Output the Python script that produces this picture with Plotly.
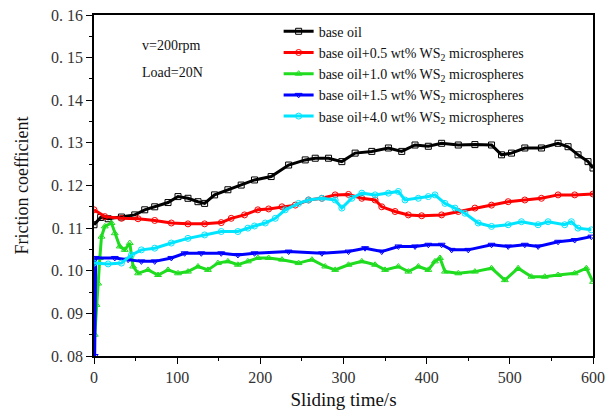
import plotly.graph_objects as go

# sliding time (s) and friction coefficient
t_base = [0, 8, 17, 33, 49, 61, 73, 89, 101, 113, 125, 133, 145, 161, 177, 193, 213, 234, 254,
          266, 282, 298, 314, 334, 354, 370, 386, 402, 418, 438, 458, 478, 490, 502, 518, 538,
          558, 570, 582, 594, 600]
f_base = [0.1108, 0.1125, 0.1122, 0.1126, 0.1131, 0.1143, 0.1150, 0.1160, 0.1174, 0.1170, 0.1162,
          0.1158, 0.1178, 0.1190, 0.1201, 0.1213, 0.1221, 0.1248, 0.1260, 0.1264, 0.1264, 0.1256,
          0.1276, 0.1280, 0.1288, 0.1280, 0.1295, 0.1292, 0.1299, 0.1295, 0.1296, 0.1295, 0.1272,
          0.1276, 0.1288, 0.1288, 0.1299, 0.1291, 0.1272, 0.1256, 0.1241]

t_05 = [0, 13, 33, 53, 73, 93, 113, 133, 153, 165, 181, 197, 210, 226, 242, 258, 274, 290, 306,
        322, 338, 346, 362, 378, 394, 418, 438, 458, 478, 498, 518, 538, 558, 578, 600]
f_05 = [0.1143, 0.1127, 0.1123, 0.1122, 0.1118, 0.1112, 0.1110, 0.1110, 0.1113, 0.1123, 0.1131,
        0.1143, 0.1145, 0.1150, 0.1154, 0.1166, 0.1170, 0.1178, 0.1179, 0.1170, 0.1166, 0.1150,
        0.1139, 0.1131, 0.1129, 0.1131, 0.1139, 0.1147, 0.1154, 0.1162, 0.1166, 0.1170, 0.1178,
        0.1178, 0.1180]

t_10 = [1, 3, 5, 7, 9, 13, 21, 25, 31, 37, 43, 47, 53, 65, 77, 89, 101, 113, 125, 137, 149, 161,
        173, 185, 197, 210, 226, 246, 262, 278, 290, 306, 322, 338, 350, 366, 378, 390, 402, 410,
        416, 422, 438, 458, 478, 494, 510, 526, 542, 558, 578, 592, 600]
f_10 = [0.0850, 0.0920, 0.0970, 0.1030, 0.1080, 0.1104, 0.1112, 0.1088, 0.1057, 0.1049, 0.1065,
        0.1010, 0.0994, 0.1002, 0.0990, 0.1002, 0.0994, 0.0998, 0.1010, 0.1002, 0.1018, 0.1022,
        0.1014, 0.1022, 0.1030, 0.1030, 0.1026, 0.1018, 0.1026, 0.1010, 0.1002, 0.1014, 0.1022,
        0.1014, 0.1002, 0.1010, 0.0998, 0.1010, 0.1002, 0.1022, 0.1030, 0.0998, 0.0994, 0.0998,
        0.1006, 0.0978, 0.1006, 0.0986, 0.0986, 0.0990, 0.0994, 0.1006, 0.0974]

t_15 = [0.8, 2, 25, 41, 57, 73, 93, 109, 129, 153, 173, 193, 234, 274, 306, 326, 346, 366, 386,
        402, 418, 430, 450, 478, 498, 518, 534, 558, 578, 598]
f_15 = [0.0800, 0.1030, 0.1030, 0.1026, 0.1022, 0.1022, 0.1030, 0.1041, 0.1041, 0.1041, 0.1037,
        0.1041, 0.1045, 0.1041, 0.1045, 0.1053, 0.1045, 0.1057, 0.1057, 0.1061, 0.1061, 0.1049,
        0.1049, 0.1061, 0.1057, 0.1061, 0.1057, 0.1068, 0.1072, 0.1080]

t_40 = [0, 17, 33, 45, 57, 73, 93, 113, 133, 153, 173, 185, 193, 206, 218, 230, 246, 258, 274,
        290, 298, 310, 322, 338, 354, 366, 374, 390, 402, 410, 422, 434, 446, 462, 478, 498, 514,
        534, 546, 566, 574, 582, 598]
f_40 = [0.1018, 0.1016, 0.1018, 0.1037, 0.1049, 0.1053, 0.1065, 0.1076, 0.1084, 0.1092, 0.1092,
        0.1100, 0.1105, 0.1112, 0.1123, 0.1143, 0.1158, 0.1166, 0.1170, 0.1166, 0.1147, 0.1170,
        0.1182, 0.1178, 0.1182, 0.1186, 0.1166, 0.1170, 0.1174, 0.1178, 0.1158, 0.1147, 0.1135,
        0.1112, 0.1104, 0.1108, 0.1115, 0.1108, 0.1115, 0.1108, 0.1115, 0.1100, 0.1096]

names = ['base oil',
         'base oil+0.5 wt% WS<sub>2</sub> microspheres',
         'base oil+1.0 wt% WS<sub>2</sub> microspheres',
         'base oil+1.5 wt% WS<sub>2</sub> microspheres',
         'base oil+4.0 wt% WS<sub>2</sub> microspheres']

y_ticks = [0.08, 0.09, 0.10, 0.11, 0.12, 0.13, 0.14, 0.15, 0.16]
y_labels = ['0. 08', '0. 09', '0. 10', '0. 11', '0. 12', '0. 13', '0. 14', '0. 15', '0. 16']

series = [(t_base, f_base), (t_05, f_05), (t_10, f_10), (t_15, f_15), (t_40, f_40)]
colors = ['#000000', '#ff0000', '#1fdc1f', '#0000ff', '#00e5ff']
symbols = ['square-open', 'circle-open', 'triangle-up-open', 'triangle-down-open', 'circle-open']

serif = 'Liberation Serif'

fig = go.Figure()
for (t, f), name, c, s in zip(series, names, colors, symbols):
    fig.add_trace(go.Scatter(x=t, y=f, name=name, mode='lines+markers',
                             line=dict(color=c, width=3),
                             marker=dict(symbol=s, size=6, color=c, line=dict(width=1, color=c))))

# plot box in page pixels: x 94..593, y 15..356
notes = [('v=200rpm', 140, 45), ('Load=20N', 140, 73)]
for txt, px, py in notes:
    fig.add_annotation(text=txt, x=(px - 94) / 499, y=1 - (py - 15) / 341,
                       xref='paper', yref='paper', showarrow=False,
                       xanchor='left', yanchor='middle',
                       font=dict(family=serif, size=14, color='#111'))

fig.update_layout(
    width=608, height=411,
    margin=dict(l=94, r=15, t=15, b=55),
    paper_bgcolor='white', plot_bgcolor='white',
    font=dict(family=serif, size=16, color='#333'),
    legend=dict(x=0.37, y=0.998, xanchor='left', yanchor='top',
                bgcolor='rgba(0,0,0,0)', font=dict(family=serif, size=14, color='#111'),
                tracegroupgap=0, itemwidth=30),
    showlegend=True,
)
fig.update_xaxes(range=[0, 600], tickvals=[0, 100, 200, 300, 400, 500, 600],
                 showline=True, linecolor='black', linewidth=1.5, mirror=True,
                 ticks='outside', ticklen=6, tickcolor='black', tickwidth=1.2,
                 minor=dict(dtick=50, ticks='outside', ticklen=3, tickcolor='black'),
                 showgrid=False, zeroline=False, automargin=False,
                 title=dict(text='Sliding time/s', font=dict(family=serif, size=19, color='#111'),
                            standoff=8))
fig.update_yaxes(range=[0.08, 0.16], tickvals=y_ticks, ticktext=y_labels,
                 showline=True, linecolor='black', linewidth=1.5, mirror=True,
                 ticks='outside', ticklen=6, tickcolor='black', tickwidth=1.2,
                 minor=dict(dtick=0.005, ticks='outside', ticklen=3, tickcolor='black'),
                 showgrid=False, zeroline=False, automargin=False,
                 title=dict(text='Friction coefficient', font=dict(family=serif, size=18, color='#111'),
                            standoff=18))

# drop the default 8px body margin so the figure fills the window
fig.write_html("out.html", config={'displayModeBar': False},
               post_script="document.body.style.margin='0';")
